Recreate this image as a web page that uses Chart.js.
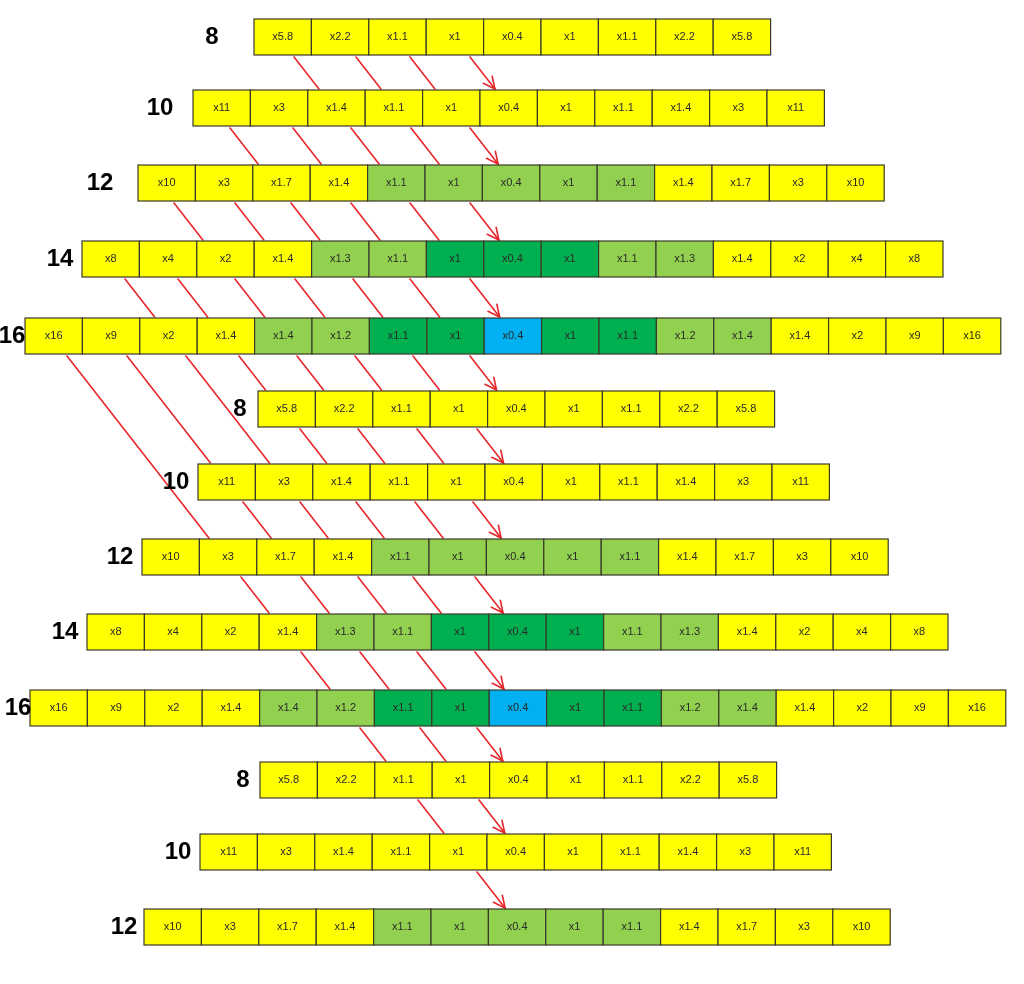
<!DOCTYPE html>
<html><head><meta charset="utf-8">
<script src="https://cdn.jsdelivr.net/npm/chart.js@4"></script>
<style>html,body{margin:0;padding:0;background:#fff}</style>
</head><body>
<canvas id="c" width="1024" height="984"></canvas>
<script>
const vals8  = ["x5.8","x2.2","x1.1","x1","x0.4","x1","x1.1","x2.2","x5.8"];
const vals10 = ["x11","x3","x1.4","x1.1","x1","x0.4","x1","x1.1","x1.4","x3","x11"];
const vals12 = ["x10","x3","x1.7","x1.4","x1.1","x1","x0.4","x1","x1.1","x1.4","x1.7","x3","x10"];
const vals14 = ["x8","x4","x2","x1.4","x1.3","x1.1","x1","x0.4","x1","x1.1","x1.3","x1.4","x2","x4","x8"];
const vals16 = ["x16","x9","x2","x1.4","x1.4","x1.2","x1.1","x1","x0.4","x1","x1.1","x1.2","x1.4","x1.4","x2","x9","x16"];
const shades = {8:"YYYYYYYYY",10:"YYYYYYYYYYY",12:"YYYYLLLLLYYYY",14:"YYYYLLGGGLLYYYY",16:"YYYYLLGGBGGLLYYYY"};
const valuesBySize = {8:vals8,10:vals10,12:vals12,14:vals14,16:vals16};
const colorOf = {Y:"#FFFF00",L:"#92D050",G:"#00B050",B:"#00B0F0"};
const rowSizes = [8,10,12,14,16,8,10,12,14,16,8,10,12];
const rowLeft  = [254,193,138,82,25,258,198,142,87,30,260,200,144];
const rowTop   = [19,90,165,241,318,391,464,539,614,690,762,834,909];
const labelX   = [212,160,100,60,12,240,176,120,65,18,243,178,124];
const cellW = 57.4, cellH = 36, slope = 0.78;
const arrows = [
 [0,294,1,0],[0,356,1,0],[0,410,1,0],[0,470,1,1],
 [1,230,2,0],[1,293,2,0],[1,351,2,0],[1,411,2,0],[1,470,2,1],
 [2,174,3,0],[2,235,3,0],[2,291,3,0],[2,351,3,0],[2,410,3,0],[2,470,3,1],
 [3,125,4,0],[3,178,4,0],[3,235,4,0],[3,295,4,0],[3,353,4,0],[3,410,4,0],[3,470,4,1],
 [4,67,7,0],[4,127,6,0],[4,186,6,0],[4,239,5,0],[4,297,5,0],[4,355,5,0],[4,413,5,0],[4,470,5,1],
 [5,300,6,0],[5,358,6,0],[5,417,6,0],[5,477,6,1],
 [6,243,7,0],[6,300,7,0],[6,356,7,0],[6,415,7,0],[6,473,7,1],
 [7,241,8,0],[7,301,8,0],[7,358,8,0],[7,413,8,0],[7,475,8,1],
 [8,301,9,0],[8,360,9,0],[8,417,9,0],[8,475,9,1],
 [9,360,10,0],[9,420,10,0],[9,477,10,1],
 [10,418,11,0],[10,479,11,1],
 [11,477,12,1]
];

const drawPlugin = {
  id:'grid',
  afterDatasetsDraw(chart){
    const ctx = chart.ctx, xs = chart.scales.x, ys = chart.scales.y;
    const X = v=>xs.getPixelForValue(v), Y = v=>ys.getPixelForValue(v);
    ctx.save();
    ctx.strokeStyle = "#E8262A"; ctx.lineWidth = 1.6; ctx.lineCap="round";
    arrows.forEach(([fr,sx,tr,head])=>{
      const y0 = rowTop[fr]+cellH+2, y1 = rowTop[tr]-1;
      const ex = sx + slope*(y1-y0);
      ctx.beginPath(); ctx.moveTo(X(sx),Y(y0)); ctx.lineTo(X(ex),Y(y1)); ctx.stroke();
      if(head){
        const a = Math.atan2(Y(y1)-Y(y0), X(ex)-X(sx)), L=13, w=0.45;
        ctx.beginPath();
        ctx.moveTo(X(ex)-L*Math.cos(a-w), Y(y1)-L*Math.sin(a-w));
        ctx.lineTo(X(ex),Y(y1));
        ctx.lineTo(X(ex)-L*Math.cos(a+w), Y(y1)-L*Math.sin(a+w));
        ctx.stroke();
      }
    });
    rowSizes.forEach((n,r)=>{
      const v = valuesBySize[n], s = shades[n];
      for(let i=0;i<v.length;i++){
        const x0 = X(rowLeft[r]+i*cellW), x1 = X(rowLeft[r]+(i+1)*cellW);
        const y0 = Y(rowTop[r]), y1 = Y(rowTop[r]+cellH);
        ctx.fillStyle = colorOf[s[i]];
        ctx.fillRect(x0,y0,x1-x0,y1-y0);
        ctx.strokeStyle = "#3a3a2a"; ctx.lineWidth = 1.2;
        ctx.strokeRect(x0,y0,x1-x0,y1-y0);
        ctx.fillStyle = "#2a2a2a"; ctx.font = "11px 'Liberation Sans', Arial";
        ctx.textAlign="center"; ctx.textBaseline="middle";
        ctx.fillText(v[i],(x0+x1)/2,(y0+y1)/2);
      }
      ctx.fillStyle="#000"; ctx.font="bold 24px 'Liberation Sans', Arial";
      ctx.textAlign="center"; ctx.textBaseline="middle";
      ctx.fillText(String(n), X(labelX[r]), Y(rowTop[r]+cellH/2));
    });
    ctx.restore();
  }
};

new Chart(document.getElementById('c'),{
  type:'scatter',
  data:{datasets:[{data:[],showLine:false}]},
  options:{
    responsive:false, animation:false,
    layout:{padding:0},
    plugins:{legend:{display:false},tooltip:{enabled:false}},
    scales:{
      x:{type:'linear',min:0,max:1024,display:false},
      y:{type:'linear',min:0,max:984,reverse:true,display:false}
    }
  },
  plugins:[drawPlugin]
});
</script>
</body></html>
